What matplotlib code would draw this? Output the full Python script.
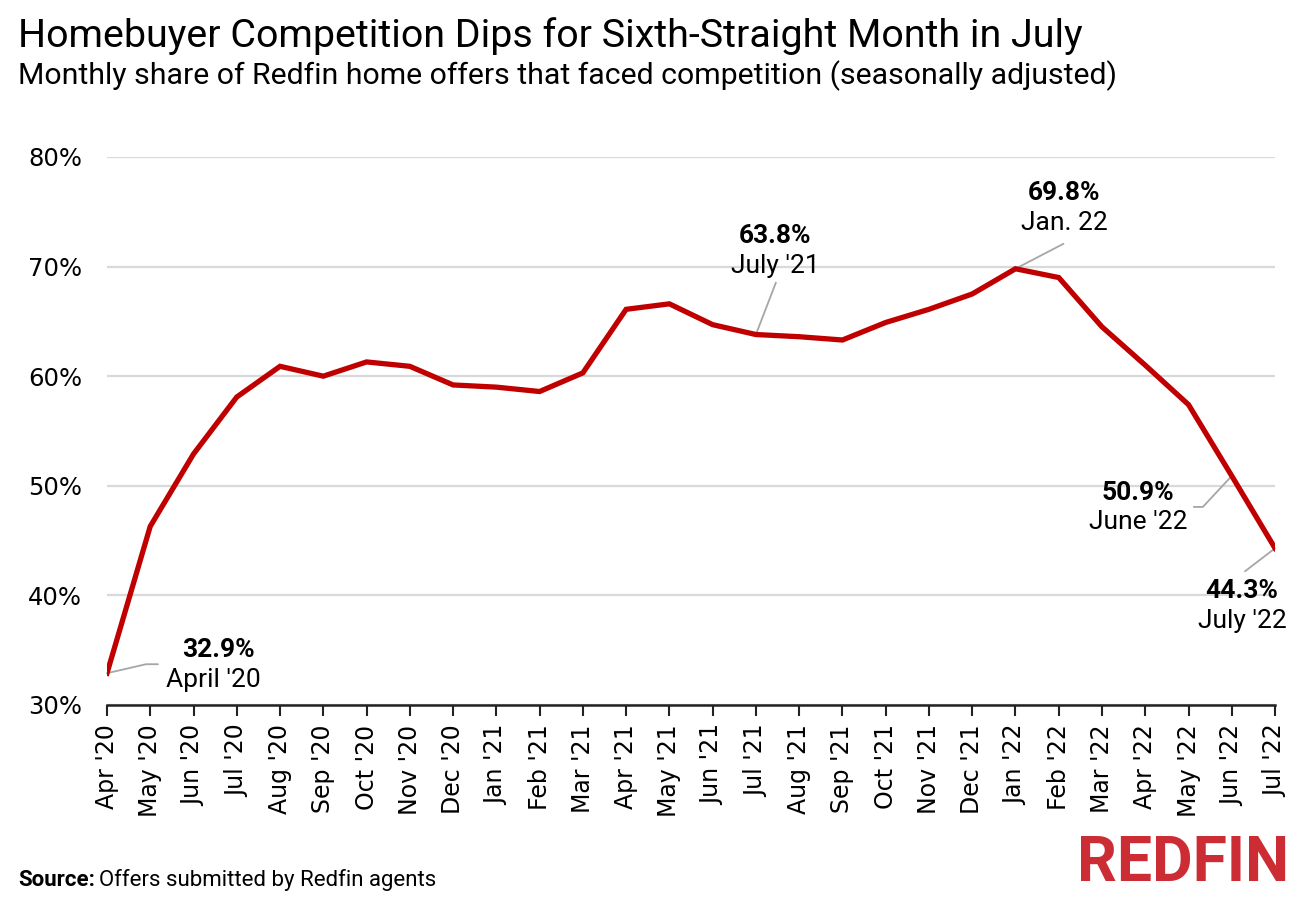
import numpy as np
import matplotlib
matplotlib.use("Agg")
import matplotlib.pyplot as plt
from matplotlib.ticker import FuncFormatter

# data (share of offers facing competition, %)
months = ["Apr '20", "May '20", "Jun '20", "Jul '20", "Aug '20", "Sep '20", "Oct '20",
          "Nov '20", "Dec '20", "Jan '21", "Feb '21", "Mar '21", "Apr '21", "May '21",
          "Jun '21", "Jul '21", "Aug '21", "Sep '21", "Oct '21", "Nov '21", "Dec '21",
          "Jan '22", "Feb '22", "Mar '22", "Apr '22", "May '22", "Jun '22", "Jul '22"]
share = [32.9, 46.3, 52.9, 58.1, 60.9, 60.0, 61.3, 60.9, 59.2, 59.0, 58.6, 60.3,
         66.1, 66.6, 64.7, 63.8, 63.6, 63.3, 64.9, 66.1, 67.5, 69.8, 69.0, 64.5,
         61.0, 57.4, 50.9, 44.3]

# annotated points: (month index, bold value, label)
callouts = [(0, "32.9%", "April '20"),
            (15, "63.8%", "July '21"),
            (21, "69.8%", "Jan. 22"),
            (26, "50.9%", "June '22"),
            (27, "44.3%", "July '22")]

COND = "Roboto"
RED = "#c00000"
GREY = "#a6a6a6"

fig = plt.figure(figsize=(13, 8.99), dpi=100)
ax = fig.add_axes([0.0823, 0.2158, 0.8985, 0.6096])

x = np.arange(len(months))
ax.plot(x, share, color=RED, lw=3.8, solid_joinstyle="miter", zorder=3)

ax.set_xlim(0, len(months) - 1)
ax.set_ylim(30, 80)
ax.set_yticks(np.arange(30, 81, 10))
ax.yaxis.set_major_formatter(FuncFormatter(lambda v, p: f"{v:.0f}%"))
ax.set_xticks(x)
ax.set_xticklabels(months, rotation=90, fontsize=17, family="DejaVu Sans")
ax.tick_params(axis="y", length=0, pad=18, labelsize=17.5)
ax.tick_params(axis="x", length=8, width=1.5, color="#222222", pad=6)

ax.grid(axis="y", color="#d9d9d9", lw=1.6)
ax.set_axisbelow(True)
for s in ["top", "right", "left"]:
    ax.spines[s].set_visible(False)
ax.spines["bottom"].set_color("#222222")
ax.spines["bottom"].set_linewidth(1.8)
ax.spines["bottom"].set_zorder(4)

# leader lines and labels (offsets in pixels from the data point)
layout = {
    0: dict(tail=(51, 9), angle=13, val=(111, 23), lab=(106, -7)),
    15: dict(tail=(20, 52), angle=None, val=(19, 99), lab=(19, 69)),
    21: dict(tail=(48, 25), angle=None, val=(49, 76), lab=(49, 46)),
    26: dict(tail=(-38, -31), angle=47, val=(-94, -17), lab=(-94, -46)),
    27: dict(tail=(-30, -23), angle=None, val=(-33, -43), lab=(-33, -73)),
}
for i, val, lab in callouts:
    L = layout[i]
    conn = "arc3" if L["angle"] is None else f"angle,angleA=0,angleB={L['angle']},rad=0"
    ax.annotate("", xy=(i, share[i]), xytext=L["tail"], textcoords="offset pixels",
                arrowprops=dict(arrowstyle="-", color=GREY, lw=1.3,
                                shrinkA=0, shrinkB=0, connectionstyle=conn),
                annotation_clip=False, zorder=2)
    ax.annotate(val, xy=(i, share[i]), xytext=L["val"], textcoords="offset pixels",
                ha="center", va="center", fontsize=19, fontweight="bold",
                family=COND, annotation_clip=False)
    ax.annotate(lab, xy=(i, share[i]), xytext=L["lab"], textcoords="offset pixels",
                ha="center", va="center", fontsize=19, family=COND,
                annotation_clip=False)

fig.text(0.014, 0.948, "Homebuyer Competition Dips for Sixth-Straight Month in July",
         fontsize=28.4, family=COND, va="baseline")
fig.text(0.014, 0.906, "Monthly share of Redfin home offers that faced competition (seasonally adjusted)",
         fontsize=21.8, family=COND, va="baseline")

src = fig.text(0.014, 0.014, "Source:", fontsize=16, fontweight="bold", family=COND,
               va="baseline")
fig.canvas.draw()
bb = src.get_window_extent()
fig.text((bb.x1 + 4) / fig.bbox.width, 0.014, "Offers submitted by Redfin agents",
         fontsize=16, family=COND, va="baseline")

fig.text(0.992, 0.006, "REDFIN", fontsize=45, fontweight="bold", family=COND,
         color="#cc2d34", ha="right", va="bottom")

fig.savefig("out.png", dpi=100)
